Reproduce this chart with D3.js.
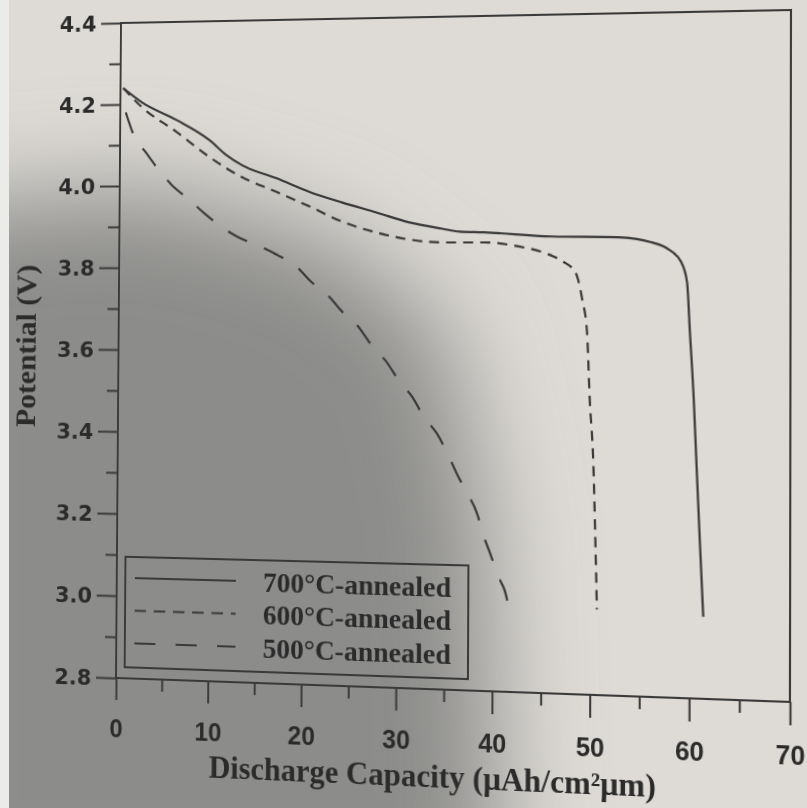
<!DOCTYPE html>
<html><head><meta charset="utf-8">
<script src="https://cdn.jsdelivr.net/npm/d3@7"></script>
<style>
html,body{margin:0;padding:0;width:807px;height:808px;overflow:hidden;background:#dcd9d4}
#bg{position:absolute;left:0;top:0}
#chart{position:absolute;left:0;top:0;overflow:visible;transform-origin:0 0}
</style></head><body>
<svg id="bg" width="807" height="808"></svg>
<svg id="chart" width="807" height="808"></svg>
<script>
// ---- data ----
const capacity700  = [0.3, 2.4, 6.2, 9.8, 11.6, 13.3, 17.0, 20.6, 24.1, 27.7, 31.2, 34.6, 36.4, 39.0, 45.9, 52.7, 56.1, 57.8, 59.1, 59.7, 60.0, 60.4, 60.7, 61.0, 61.4];
const potential700 = [4.24, 4.204, 4.16, 4.11, 4.074, 4.049, 4.017, 3.983, 3.957, 3.933, 3.909, 3.894, 3.887, 3.885, 3.875, 3.873, 3.861, 3.845, 3.815, 3.768, 3.651, 3.495, 3.339, 3.186, 2.99];
const capacity600  = [0.3, 2.4, 6.2, 9.8, 13.3, 17.0, 20.6, 24.1, 27.7, 31.2, 34.6, 39.0, 42.4, 45.1, 47.1, 48.4, 49.1, 49.6, 49.9, 50.3, 50.5, 50.7];
const potential600 = [4.24, 4.192, 4.131, 4.069, 4.020, 3.984, 3.948, 3.911, 3.885, 3.868, 3.861, 3.861, 3.852, 3.837, 3.816, 3.79, 3.727, 3.65, 3.492, 3.335, 3.18, 3.0];
const capacity500  = [0.6, 1.5, 2.9, 4.3, 5.7, 7.6, 9.2, 11.1, 12.9, 15.3, 17.2, 19.3, 20.8, 22.7, 24.1, 25.9, 27.2, 28.8, 30.2, 31.6, 32.8, 34.2, 35.2, 36.3, 37.3, 38.4, 39.0, 39.7, 40.6, 41.5, 41.7];
const potential500 = [4.18, 4.124, 4.08, 4.038, 4.002, 3.966, 3.934, 3.90, 3.875, 3.852, 3.831, 3.802, 3.767, 3.732, 3.696, 3.658, 3.617, 3.577, 3.53, 3.492, 3.445, 3.405, 3.363, 3.31, 3.268, 3.217, 3.17, 3.128, 3.071, 3.018, 2.99];
const seriesNames = ["700\u00B0C-annealed", "600\u00B0C-annealed", "500\u00B0C-annealed"];
const xTicks = [0, 10, 20, 30, 40, 50, 60, 70];
const xMinorTicks = [5, 15, 25, 35, 45, 55, 65];
const yTicks = [2.8, 3.0, 3.2, 3.4, 3.6, 3.8, 4.0, 4.2, 4.4];
const yMinorTicks = [2.9, 3.1, 3.3, 3.5, 3.7, 3.9, 4.1, 4.3];
const xTitle = "Discharge Capacity (\u03BCAh/cm\u00B2\u03BCm)";
const yTitle = "Potential (V)";

// ---- background (photographed page) ----
const bg = d3.select("#bg");
const defs = bg.append("defs");
defs.append("filter").attr("id","blur").attr("x","-50%").attr("y","-50%").attr("width","200%").attr("height","200%")
  .append("feGaussianBlur").attr("stdDeviation", 50);
bg.append("rect").attr("width",807).attr("height",808).attr("fill","#dedbd6");
bg.append("path").attr("d","M-100,210 L150,190 L330,240 L445,330 L485,520 L500,920 L-100,920 Z")
  .attr("fill","#8c8c8a").attr("filter","url(#blur)");
bg.append("rect").attr("x",0).attr("y",0).attr("width",9).attr("height",808).attr("fill","#ebebe9");

// ---- chart in canonical coordinates ----
const L = 120, R = 790, T = 22, B = 678;
const x = d3.scaleLinear().domain([0, 70]).range([L, R]);
const y = d3.scaleLinear().domain([2.8, 4.4]).range([B, T]);
const ink = "#3a3a3a", textInk = "#2b2b2b";
const svg = d3.select("#chart");
const g = svg.append("g");

// minor ticks
g.append("g").attr("transform",`translate(${L},0)`)
  .call(d3.axisLeft(y).tickValues(yMinorTicks).tickSize(12).tickSizeOuter(0).tickFormat(""))
  .call(a => a.select(".domain").remove());
g.append("g").attr("transform",`translate(0,${B})`)
  .call(d3.axisBottom(x).tickValues(xMinorTicks).tickSize(12).tickSizeOuter(0).tickFormat(""))
  .call(a => a.select(".domain").remove());
// major ticks + labels
const yAx = g.append("g").attr("transform",`translate(${L},0)`)
  .call(d3.axisLeft(y).tickValues(yTicks).tickSize(21).tickPadding(5).tickSizeOuter(0).tickFormat(d3.format(".1f")));
yAx.select(".domain").remove();
yAx.selectAll("text").attr("font-family","DejaVu Sans").attr("font-weight","bold").attr("font-size",22).attr("fill",textInk).attr("dy","0.36em");
const xAx = g.append("g").attr("transform",`translate(0,${B})`)
  .call(d3.axisBottom(x).tickValues(xTicks).tickSize(22).tickPadding(19).tickSizeOuter(0).tickFormat(d3.format("d")));
xAx.select(".domain").remove();
xAx.selectAll("text").attr("font-family","Liberation Sans, Arial").attr("font-weight","bold").attr("font-size",25).attr("fill",textInk);
g.selectAll(".tick line").attr("stroke",ink).attr("stroke-width",2);

// frame
g.append("path").attr("d",`M${L},${B}V${T}H${R}V${B}H${L}`).attr("fill","none").attr("stroke",ink).attr("stroke-width",2);

// curves
const line = d3.line().x(d => x(d[0])).y(d => y(d[1])).curve(d3.curveMonotoneX);
const series = [
  {pts: d3.zip(capacity700, potential700), dash: null},
  {pts: d3.zip(capacity600, potential600), dash: "10,7"},
  {pts: d3.zip(capacity500, potential500), dash: "22,19"}
];
series.forEach(s => {
  g.append("path").attr("d", line(s.pts)).attr("fill","none").attr("stroke",ink)
   .attr("stroke-width",2.2).attr("stroke-dasharray", s.dash);
});

// legend
const lg = g.append("g").attr("transform","translate(129,557)");
lg.append("rect").attr("width",350).attr("height",110).attr("fill","none").attr("stroke",ink).attr("stroke-width",2);
const legendDash = [null, "12,8", "22,21"];
seriesNames.forEach((name, i) => {
  const ly = 21 + i * 32.5;
  lg.append("line").attr("x1",10).attr("x2",115).attr("y1",ly).attr("y2",ly)
    .attr("stroke",ink).attr("stroke-width",2).attr("stroke-dasharray",legendDash[i]);
  lg.append("text").attr("x",143).attr("y",ly + 10).text(name)
    .attr("font-family","Liberation Serif, Times New Roman").attr("font-weight","bold").attr("font-size",28).attr("fill",textInk);
});

// axis titles
g.append("text").attr("x", 440).attr("y", 773).attr("text-anchor","middle").text(xTitle)
  .attr("font-family","Liberation Serif, Times New Roman").attr("font-weight","bold").attr("font-size",31).attr("fill",textInk);
g.append("text").attr("transform","translate(32,347) rotate(-90)").attr("text-anchor","middle").text(yTitle)
  .attr("font-family","Liberation Serif, Times New Roman").attr("font-weight","bold").attr("font-size",30).attr("fill",textInk);

// ---- perspective of the photograph: map canonical frame corners onto photographed corners ----
function homography(src, dst) {
  const A = [];
  for (let i = 0; i < 4; i++) {
    const [sx, sy] = src[i], [X, Y] = dst[i];
    A.push([sx, sy, 1, 0, 0, 0, -sx * X, -sy * X, X]);
    A.push([0, 0, 0, sx, sy, 1, -sx * Y, -sy * Y, Y]);
  }
  const n = 8;
  for (let c = 0; c < n; c++) {
    let p = c;
    for (let r = c + 1; r < n; r++) if (Math.abs(A[r][c]) > Math.abs(A[p][c])) p = r;
    [A[c], A[p]] = [A[p], A[c]];
    for (let r = 0; r < n; r++) if (r !== c) {
      const f = A[r][c] / A[c][c];
      for (let k = c; k <= n; k++) A[r][k] -= f * A[c][k];
    }
  }
  return A.map((row, i) => row[n] / row[i]);
}
const [a, b, c, d, e, f, gg, hh] = homography(
  [[L, T], [R, T], [R, B], [L, B]],
  [[121, 23], [791, 10], [790, 702], [116, 678]]
);
document.getElementById("chart").style.transform =
  `matrix3d(${a},${d},0,${gg},${b},${e},0,${hh},0,0,1,0,${c},${f},0,1)`;
</script>
</body></html>
